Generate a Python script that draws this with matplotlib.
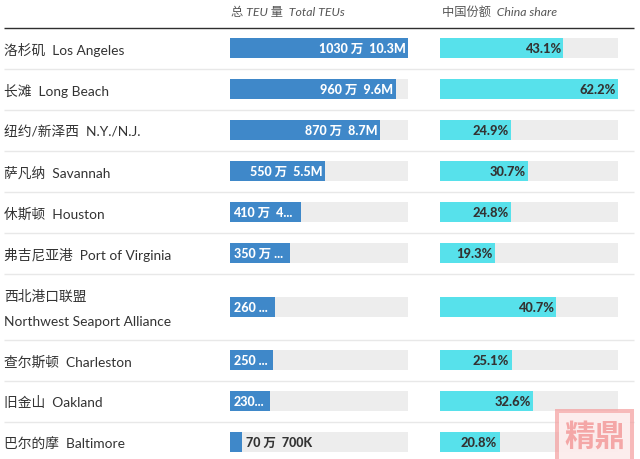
import matplotlib
matplotlib.use("Agg")
import matplotlib.pyplot as plt
from matplotlib.patches import Rectangle

plt.rcParams['font.family'] = ['Lato', 'Noto Sans CJK SC', 'DejaVu Sans']

names_zh = ["洛杉矶", "长滩", "纽约/新泽西", "萨凡纳", "休斯顿", "弗吉尼亚港", "西北港口联盟", "查尔斯顿", "旧金山", "巴尔的摩"]
names_en = ["Los Angeles", "Long Beach", "N.Y./N.J.", "Savannah", "Houston", "Port of Virginia",
            "Northwest Seaport Alliance", "Charleston", "Oakland", "Baltimore"]
teu = [1030, 960, 870, 550, 410, 350, 260, 250, 230, 70]
teu_labels = ["1030 万  10.3M", "960 万  9.6M", "870 万  8.7M", "550 万  5.5M", "410 万  4...",
              "350 万 ...", "260 ...", "250 ...", "230...", "70 万  700K"]
share = [43.1, 62.2, 24.9, 30.7, 24.8, 19.3, 40.7, 25.1, 32.6, 20.8]

bar_y = [49, 90, 131, 172, 213, 254, 308, 361, 402, 443]
seps = [69.5, 110.5, 151.5, 192.5, 233.5, 274.5, 340.5, 381.5, 422.5]
text_y = [50, 91, 132, 173, 214, 255, None, 362, 403, 444]

DARK = "#333333"
GREY = "#ededed"
fig = plt.figure(figsize=(6.4, 4.6), dpi=100)
bg = fig.add_axes([0, 0, 1, 1])
bg.set_xlim(0, 640); bg.set_ylim(460, 0); bg.axis("off")

for s in seps:
    bg.plot([4, 634], [s, s], color="#e8e8e8", lw=1, solid_capstyle="butt")
bg.plot([4, 634], [28.5, 28.5], color="#2f2f2f", lw=1, solid_capstyle="butt")

bg.text(231, 12, "总 TEU 量  Total TEUs", fontsize=8.8, style="italic", color="#555555", va="center")
bg.text(442, 12, "中国份额  China share", fontsize=8.8, style="italic", color="#555555", va="center")

for zh, en, y in zip(names_zh, names_en, text_y):
    if y is None:
        bg.text(4, 296, zh, fontsize=9.9, color=DARK, va="center")
        bg.text(4, 322, en, fontsize=9.9, color=DARK, va="center")
    else:
        bg.text(4, y, f"{zh}  {en}", fontsize=9.9, color=DARK, va="center")

PX = 0.72
a1 = fig.add_axes([230/640, 0, 178/640, 1], sharey=bg)
a1.set_xlim(0, max(teu)); a1.axis("off"); a1.patch.set_alpha(0)
a1.barh(bar_y, [max(teu)]*len(teu), height=20, color=GREY)
a1.barh(bar_y, teu, height=20, color="#3f88c9")
for i, (v, lab, y) in enumerate(zip(teu, teu_labels, bar_y)):
    if v < 100:
        a1.annotate(lab, (v, y), xytext=(4*PX, 0), textcoords="offset points", ha="left", va="center",
                    fontsize=9, fontweight=900, color=DARK)
    elif "..." in lab:
        a1.annotate(lab, (0, y), xytext=(3.5*PX, 0), textcoords="offset points", ha="left", va="center",
                    fontsize=9, fontweight=900, color="white")
    else:
        a1.annotate(lab, (v, y), xytext=(-2.5*PX, 0), textcoords="offset points", ha="right", va="center",
                    fontsize=9, fontweight=900, color="white")

a2 = fig.add_axes([440/640, 0, 178/640, 1], sharey=bg)
a2.set_xlim(0, max(share)); a2.axis("off"); a2.patch.set_alpha(0)
a2.barh(bar_y, [max(share)]*len(share), height=20, color=GREY)
a2.barh(bar_y, share, height=20, color="#57e1eb")
for v, y in zip(share, bar_y):
    a2.annotate(f"{v}%", (v, y), xytext=(-2.5*PX, 0), textcoords="offset points", ha="right", va="center",
                fontsize=9.3, fontweight=900, color=DARK)
bg.set_ylim(460, 0)

# watermark stamp
top = fig.add_axes([0, 0, 1, 1], sharex=bg, sharey=bg); top.axis("off"); top.patch.set_alpha(0)
top.add_patch(Rectangle((555, 410), 79, 52, facecolor="#f4a0a0", alpha=0.72, edgecolor="none"))
top.add_patch(Rectangle((559, 414), 71, 46, facecolor="white", alpha=0.75, edgecolor="none"))
top.text(594.5, 436, "精鼎", fontsize=22, fontweight="bold", color="#f4a0a0", alpha=0.9, ha="center", va="center")

fig.savefig("out.png", dpi=100)
